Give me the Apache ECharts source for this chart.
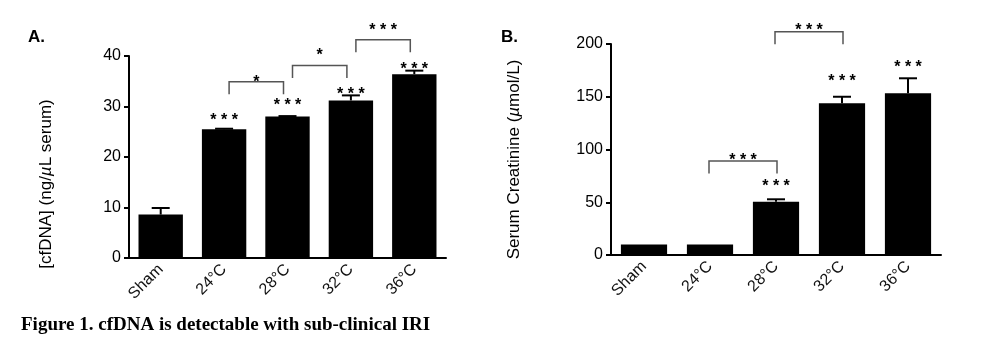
<!DOCTYPE html>
<html>
<head>
<meta charset="utf-8">
<script src="https://cdn.jsdelivr.net/npm/echarts@6/dist/echarts.min.js"></script>
<style>
html,body{margin:0;padding:0;background:#fff;}
#chart{width:990px;height:350px;}
</style>
</head>
<body>
<div id="chart"></div>
<script>
// ---- data ----
const categories = ['Sham', '24°C', '28°C', '32°C', '36°C'];
const cfdnaMean = [8.6, 25.5, 28.0, 31.2, 36.4];
const cfdnaSem = [1.3, 0.1, 0.1, 1.0, 0.7];
const creatMean = [10, 10, 50.5, 143.8, 153.3];
const creatSem = [0, 0, 2.3, 6.2, 14.2];
const cfdnaStars = ['', '***', '***', '***', '***'];
const cfdnaStarLevel = [null, 28.2, 31.1, 33.3, 38.3];
const creatStars = ['', '', '***', '***', '***'];
const creatStarLevel = [null, null, 69.5, 169, 182.7];
const cfdnaComparisons = [[1, 2, '*'], [2, 3, '*'], [3, 4, '***']];
const cfdnaComparisonLevel = [34.9, 38.1, 43.2];
const cfdnaComparisonLabelLevel = [35.8, 41.1, 46.0];
const creatComparisons = [[1, 2, '***'], [2, 3, '***']];
const creatComparisonLevel = [89, 211.7];
const creatComparisonLabelLevel = [94.1, 217.5];
const cfdnaTicks = { min: 0, max: 40, interval: 10 };
const creatTicks = { min: 0, max: 200, interval: 50 };

// ---- styling helpers ----
const FONT = 'Liberation Sans, Arial, Helvetica, sans-serif';
const starText = s => s.split('').join(' ');
const STAR_SIZE = 16;

function errorRender(params, api) {
  const i = api.value(0), m = api.value(1), e = api.value(2);
  if (!(e > 0)) return null;
  const base = api.coord([i, m]);
  const top = api.coord([i, m + e]);
  const hw = 9;
  const st = { stroke: '#000', lineWidth: 2 };
  return { type: 'group', children: [
    { type: 'line', shape: { x1: base[0], y1: base[1], x2: top[0], y2: top[1] }, style: st },
    { type: 'line', shape: { x1: top[0] - hw, y1: top[1], x2: top[0] + hw, y2: top[1] }, style: st }
  ]};
}
function starRender(params, api) {
  const p = api.coord([api.value(0), api.value(1)]);
  return { type: 'text', x: p[0], y: p[1] + 5, style: {
    text: starText(String(api.value(2))), fill: '#000', fontSize: STAR_SIZE, fontWeight: 'bold',
    fontFamily: FONT, align: 'center', verticalAlign: 'middle' } };
}
function makeBracketRender(inset) {
  return function (params, api) {
    const p1 = api.coord([api.value(0), api.value(2)]);
    const p2 = api.coord([api.value(1), api.value(2)]);
    const lbl = api.coord([api.value(0), api.value(3)]);
    const leg = 12.5;
    const x1 = p1[0] + inset[0], x2 = p2[0] + inset[1];
    return { type: 'group', children: [
      { type: 'polyline', shape: { points: [[x1, p1[1] + leg], [x1, p1[1]], [x2, p2[1]], [x2, p2[1] + leg]] },
        style: { stroke: '#555', lineWidth: 1.5, fill: null } },
      { type: 'text', x: (x1 + x2) / 2, y: lbl[1] + 5, style: {
        text: starText(String(api.value(4))),
        fill: '#000', fontSize: STAR_SIZE, fontWeight: 'bold', fontFamily: FONT,
        align: 'center', verticalAlign: 'middle' } }
    ]};
  };
}

const xAxisBase = {
  type: 'category', data: categories,
  axisLine: { lineStyle: { color: '#000', width: 2 } },
  axisTick: { alignWithLabel: true, length: 6, lineStyle: { color: '#000', width: 2 } },
  axisLabel: { rotate: 45, color: '#111', fontSize: 16, fontFamily: FONT, margin: 9 }
};
function yAxisBase(shiftDown) {
  return {
    type: 'value', splitLine: { show: false },
    axisLine: { show: true, lineStyle: { color: '#000', width: 2 } },
    axisTick: { show: true, length: 5, lineStyle: { color: '#000', width: 2 } },
    axisLabel: { color: '#000', fontSize: 16, fontFamily: FONT, margin: 8 },
    nameLocation: 'middle', nameRotate: 90,
    nameTextStyle: { color: '#000', fontSize: 17, fontFamily: FONT, padding: [0, shiftDown * 2, 0, 0],
      rich: { i: { fontStyle: 'italic', fontSize: 17, fontFamily: FONT, color: '#000' } } }
  };
}

const option = {
  animation: false,
  backgroundColor: '#fff',
  title: [
    { text: 'A.', left: 23, top: 24, textStyle: { fontSize: 17, fontWeight: 'bold', fontFamily: FONT, color: '#000' } },
    { text: 'B.', left: 496, top: 24, textStyle: { fontSize: 17, fontWeight: 'bold', fontFamily: FONT, color: '#000' } },
    { text: 'Figure 1. cfDNA is detectable with sub-clinical IRI', left: 16, top: 311,
      textStyle: { fontSize: 19, fontWeight: 'bold', fontFamily: 'Liberation Serif, Times New Roman, serif', color: '#000' } }
  ],
  grid: [
    { left: 129, top: 56, width: 317, height: 202 },
    { left: 611, top: 44, width: 330, height: 211 }
  ],
  xAxis: [
    Object.assign({ gridIndex: 0 }, xAxisBase),
    Object.assign({ gridIndex: 1 }, xAxisBase)
  ],
  yAxis: [
    Object.assign({ gridIndex: 0, name: '[cfDNA] (ng/{i|µ}L serum)', nameGap: 74 }, yAxisBase(27), cfdnaTicks),
    Object.assign({ gridIndex: 1, name: 'Serum Creatinine ({i|µ}mol/L)', nameGap: 88 }, yAxisBase(10), creatTicks)
  ],
  series: [
    { type: 'bar', xAxisIndex: 0, yAxisIndex: 0, data: cfdnaMean, barWidth: '70%', itemStyle: { color: '#000' }, z: 2 },
    { type: 'bar', xAxisIndex: 1, yAxisIndex: 1, data: creatMean, barWidth: '70%', itemStyle: { color: '#000' }, z: 2 },
    { type: 'custom', xAxisIndex: 0, yAxisIndex: 0, renderItem: errorRender, z: 3,
      data: categories.map((c, i) => [i, cfdnaMean[i], cfdnaSem[i]]) },
    { type: 'custom', xAxisIndex: 1, yAxisIndex: 1, renderItem: errorRender, z: 3,
      data: categories.map((c, i) => [i, creatMean[i], creatSem[i]]) },
    { type: 'custom', xAxisIndex: 0, yAxisIndex: 0, renderItem: starRender, z: 4,
      data: categories.map((c, i) => [i, cfdnaStarLevel[i], cfdnaStars[i]]).filter(d => d[1] !== null) },
    { type: 'custom', xAxisIndex: 1, yAxisIndex: 1, renderItem: starRender, z: 4,
      data: categories.map((c, i) => [i, creatStarLevel[i], creatStars[i]]).filter(d => d[1] !== null) },
    { type: 'custom', xAxisIndex: 0, yAxisIndex: 0, renderItem: makeBracketRender([5, -4]), z: 4,
      data: cfdnaComparisons.map((c, k) => [c[0], c[1], cfdnaComparisonLevel[k], cfdnaComparisonLabelLevel[k], c[2]]) },
    { type: 'custom', xAxisIndex: 1, yAxisIndex: 1, renderItem: makeBracketRender([-1, 1]), z: 4,
      data: creatComparisons.map((c, k) => [c[0], c[1], creatComparisonLevel[k], creatComparisonLabelLevel[k], c[2]]) }
  ]
};
const chart = echarts.init(document.getElementById('chart'), null, { renderer: 'canvas' });
chart.setOption(option);
</script>
</body>
</html>
